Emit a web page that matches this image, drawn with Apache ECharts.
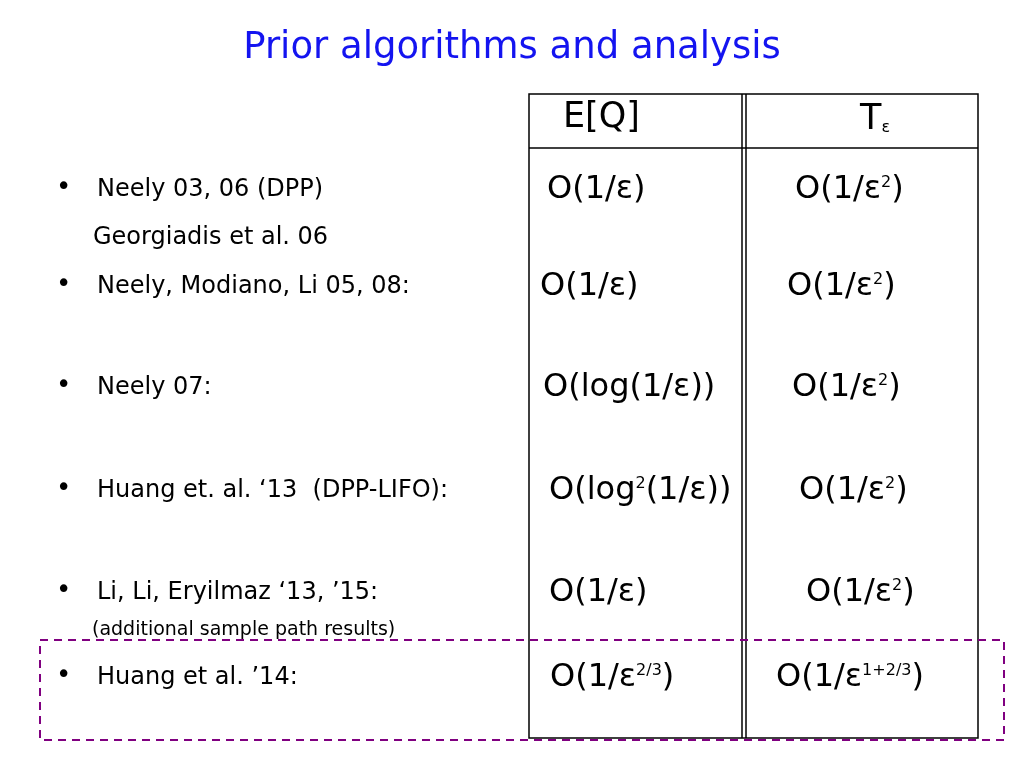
<!DOCTYPE html>
<html><head><meta charset="utf-8">
<script src="https://cdn.jsdelivr.net/npm/echarts@6/dist/echarts.min.js"></script>
<style>html,body{margin:0;background:#fff}#c{width:1024px;height:768px}</style>
</head><body><div id="c"></div>
<script>
const title = "Prior algorithms and analysis";
const headers = ["E[Q]", "T{sub|ε}"];
const labels = ["Neely 03, 06 (DPP)", "Neely, Modiano, Li 05, 08:", "Neely 07:", "Huang et. al. \u201813  (DPP-LIFO):", "Li, Li, Eryilmaz \u201813, \u201915:", "Huang et al. \u201914:"];
const notes = [[1, "Georgiadis et al. 06"], [5, "(additional sample path results)"]];
const eqValues = ["O(1/ε)", "O(1/ε)", "O(log(1/ε))", "O(log{sup|2}(1/ε))", "O(1/ε)", "O(1/ε{sup|2/3})"];
const tValues = ["O(1/ε{sup|2})", "O(1/ε{sup|2})", "O(1/ε{sup|2})", "O(1/ε{sup|2})", "O(1/ε{sup|2})", "O(1/ε{sup|1+2/3})"];
const rowY = [190, 287, 388, 491, 593, 678];
const eqX = [547, 540, 543, 549, 549, 550];
const tX = [795, 787, 792, 799, 806, 776];

const F = "DejaVu Sans";
const rich = {sup: {fontSize: 16, fontFamily: F, padding: [0,0,15,0], fill:'#000'}};
const g = [];
g.push({type:'text', left:'center', top:30, style:{text:title, font:'37px "DejaVu Sans"', fill:'#1414f0'}});
g.push({type:'rect', shape:{x:529,y:94,width:449,height:644}, style:{fill:'none', stroke:'#000', lineWidth:1.5}});
g.push({type:'line', shape:{x1:529,y1:148,x2:978,y2:148}, style:{stroke:'#000', lineWidth:1.5}});
g.push({type:'line', shape:{x1:742,y1:94,x2:742,y2:738}, style:{stroke:'#000', lineWidth:1.5}});
g.push({type:'line', shape:{x1:746,y1:94,x2:746,y2:738}, style:{stroke:'#000', lineWidth:1.5}});
g.push({type:'text', x:563, y:118, style:{text:headers[0], font:'35px "DejaVu Sans"', fill:'#000', verticalAlign:'middle'}});
g.push({type:'text', x:860, y:120, style:{text:headers[1], font:'35px "DejaVu Sans"', fill:'#000', verticalAlign:'middle', rich:{sub:{fontSize:16, fontFamily:F, padding:[16,0,0,0]}}}});
labels.forEach((l,i)=>{
  g.push({type:'text', x:56, y:rowY[i]-2, style:{text:'•', font:'26px "DejaVu Sans"', fill:'#000', verticalAlign:'middle'}});
  g.push({type:'text', x:97, y:rowY[i], style:{text:l, font:'24px "DejaVu Sans"', fill:'#000', verticalAlign:'middle'}});
  g.push({type:'text', x:eqX[i], y:rowY[i], style:{text:eqValues[i], font:'32px "DejaVu Sans"', fill:'#000', verticalAlign:'middle', rich}});
  g.push({type:'text', x:tX[i], y:rowY[i], style:{text:tValues[i], font:'32px "DejaVu Sans"', fill:'#000', verticalAlign:'middle', rich}});
});
g.push({type:'text', x:93, y:238, style:{text:notes[0][1], font:'24px "DejaVu Sans"', fill:'#000', verticalAlign:'middle'}});
g.push({type:'text', x:92, y:630, style:{text:notes[1][1], font:'19px "DejaVu Sans"', fill:'#000', verticalAlign:'middle'}});
g.push({type:'rect', shape:{x:40,y:640,width:964,height:100}, style:{fill:'none', stroke:'#800080', lineWidth:2, lineDash:[8,6]}});
const chart = echarts.init(document.getElementById('c'));
chart.setOption({backgroundColor:'#fff', graphic: g});
</script></body></html>
